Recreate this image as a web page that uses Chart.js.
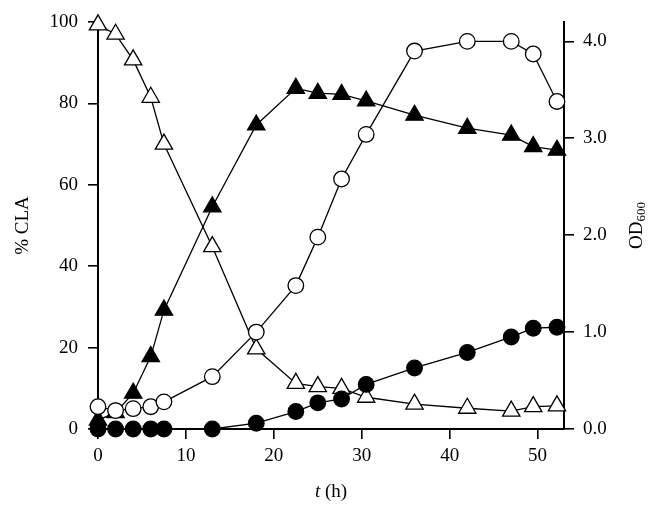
<!DOCTYPE html>
<html>
<head>
<meta charset="utf-8">
<script src="https://cdn.jsdelivr.net/npm/chart.js@4/dist/chart.umd.min.js"></script>
<style>
  html, body { margin: 0; padding: 0; background: #fff; }
  #wrap { width: 662px; height: 515px; }
</style>
</head>
<body>
<div id="wrap"><canvas id="growthChart" width="662" height="515"></canvas></div>
<script>
// sampling times (h)
const times = [0, 2, 4, 6, 7.5, 13, 18, 22.5, 25, 27.7, 30.5, 36, 42, 47, 49.5, 52.2];

// % values, left axis
const openTriangles = [99.3, 97, 90.7, 81.5, 70, 44.8, 19.7, 11.2, 10.4, 10, 7.8, 6.1, 5.1, 4.4, 5.5, 5.7];
const filledTriangles = [2.2, 4, 8.8, 17.8, 29.2, 54.6, 74.7, 83.7, 82.5, 82.2, 80.6, 77.1, 73.9, 72.2, 69.4, 68.5];

// OD600 values, right axis
const openCircles = [0.23, 0.19, 0.21, 0.23, 0.28, 0.54, 1.0, 1.48, 1.98, 2.58, 3.04, 3.9, 4.0, 4.0, 3.87, 3.38];
const filledCircles = [0, 0, 0, 0, 0, 0, 0.06, 0.18, 0.27, 0.31, 0.46, 0.63, 0.79, 0.95, 1.04, 1.05];

// axis ticks
const xTicks = [0, 10, 20, 30, 40, 50];
const leftTicks = [0, 20, 40, 60, 80, 100];
const rightTicks = [0, 1, 2, 3, 4];

const FONT = '"Liberation Serif", "DejaVu Serif", serif';

function pts(ys) {
    return times.map((t, i) => ({ x: t, y: ys[i] }));
}

// draws the two titles that need italic / subscript text
const titlesPlugin = {
    id: 'titles',
    afterDraw(chart) {
        const ctx = chart.ctx;
        const area = chart.chartArea;
        ctx.save();
        ctx.fillStyle = '#000';
        ctx.textBaseline = 'middle';

        // bottom title: t (h)
        const cx = (area.left + area.right) / 2;
        const y = 492;
        ctx.font = 'italic 19px ' + FONT;
        const wT = ctx.measureText('t').width;
        ctx.font = '19px ' + FONT;
        const wRest = ctx.measureText(' (h)').width;
        let x0 = cx - (wT + wRest) / 2;
        ctx.textAlign = 'left';
        ctx.font = 'italic 19px ' + FONT;
        ctx.fillText('t', x0, y);
        ctx.font = '19px ' + FONT;
        ctx.fillText(' (h)', x0 + wT, y);

        // right title: OD600, reading bottom to top
        ctx.translate(637, (area.top + area.bottom) / 2);
        ctx.rotate(-Math.PI / 2);
        ctx.font = '19px ' + FONT;
        const wOD = ctx.measureText('OD').width;
        ctx.font = '13px ' + FONT;
        const wSub = ctx.measureText('600').width;
        x0 = -(wOD + wSub) / 2;
        ctx.font = '19px ' + FONT;
        ctx.fillText('OD', x0, 0);
        ctx.font = '13px ' + FONT;
        ctx.fillText('600', x0 + wOD, 5);
        ctx.restore();
    }
};

const ctx = document.getElementById('growthChart').getContext('2d');

new Chart(ctx, {
    type: 'line',
    data: {
        datasets: [
            {
                label: 'OD open',
                data: pts(openCircles),
                yAxisID: 'y1',
                pointStyle: 'circle',
                pointRadius: 7.8,
                backgroundColor: '#fff',
                pointBorderWidth: 1.3,
                clip: false
            },
            {
                label: 'OD filled',
                data: pts(filledCircles),
                yAxisID: 'y1',
                pointStyle: 'circle',
                pointRadius: 7.8,
                backgroundColor: '#000',
                pointBorderWidth: 1.3,
                clip: false
            },
            {
                label: '% open',
                data: pts(openTriangles),
                yAxisID: 'y',
                pointStyle: 'triangle',
                pointRadius: 10,
                backgroundColor: '#fff',
                pointBorderWidth: 1.3,
                clip: false
            },
            {
                label: '% filled',
                data: pts(filledTriangles),
                yAxisID: 'y',
                pointStyle: 'triangle',
                pointRadius: 10,
                backgroundColor: '#000',
                pointBorderWidth: 1.3,
                clip: false
            }
        ]
    },
    options: {
        responsive: false,
        animation: false,
        layout: { padding: { top: 22, left: 0, right: 0, bottom: 0 } },
        elements: {
            line: { borderColor: '#000', borderWidth: 1.3, tension: 0, fill: false },
            point: { borderColor: '#000' }
        },
        scales: {
            x: {
                type: 'linear',
                min: 0,
                max: 53,
                afterFit: s => { s.height = 86; },
                afterBuildTicks: s => { s.ticks = xTicks.map(v => ({ value: v })); },
                ticks: { color: '#000', font: { family: FONT, size: 19 }, padding: 6 },
                grid: { drawOnChartArea: false, tickLength: 10, color: '#000', lineWidth: 1.6 },
                border: { color: '#000', width: 2 }
            },
            y: {
                position: 'left',
                min: 0,
                max: 100,
                afterFit: s => { s.width = 98; },
                afterBuildTicks: s => { s.ticks = leftTicks.map(v => ({ value: v })); },
                ticks: { color: '#000', font: { family: FONT, size: 19 }, padding: 10 },
                grid: { drawOnChartArea: false, tickLength: 10, color: '#000', lineWidth: 1.6 },
                border: { color: '#000', width: 2 },
                title: {
                    display: true,
                    text: '% CLA',
                    color: '#000',
                    font: { family: FONT, size: 19 },
                    padding: { top: 12, bottom: 0 }
                }
            },
            y1: {
                position: 'right',
                min: 0,
                max: 4.2,
                afterFit: s => { s.width = 98; },
                afterBuildTicks: s => { s.ticks = rightTicks.map(v => ({ value: v })); },
                ticks: {
                    color: '#000',
                    font: { family: FONT, size: 19 },
                    padding: 9,
                    callback: v => v.toFixed(1)
                },
                grid: { drawOnChartArea: false, tickLength: 10, color: '#000', lineWidth: 1.6 },
                border: { color: '#000', width: 2 }
            }
        },
        plugins: {
            legend: { display: false },
            tooltip: { enabled: false }
        }
    },
    plugins: [titlesPlugin]
});
</script>
</body>
</html>
